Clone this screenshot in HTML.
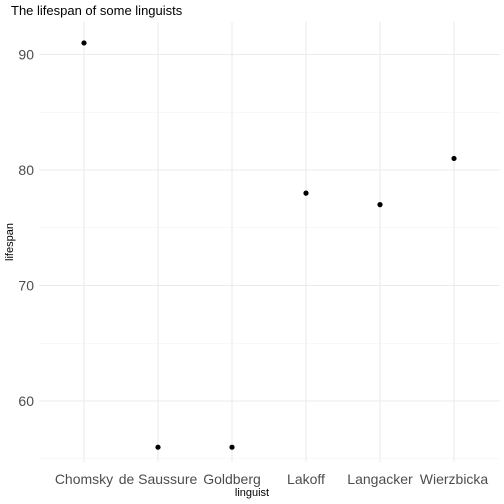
<!DOCTYPE html>
<html><head><meta charset="utf-8"><style>
body{margin:0;background:#fff}
svg{display:block;font-family:"Liberation Sans",sans-serif}
</style></head><body>
<svg id="chart" width="504" height="504">
<text x="11" y="15" font-size="13" fill="#000">The lifespan of some linguists</text>
<text x="252" y="496" font-size="11" text-anchor="middle" fill="#000">linguist</text>
<text transform="translate(13,242) rotate(-90)" font-size="11" text-anchor="middle" fill="#000">lifespan</text>
<g id="grid"></g><g id="xt"></g><g id="yt"></g><g id="pts"></g>
</svg>
<script>
const categories=["Chomsky","de Saussure","Goldberg","Lakoff","Langacker","Wierzbicka"];
const lifespans=[91,56,56,78,77,81];
const yTicks=[60,70,80,90];
const yMinor=[55,65,75,85];
const L=39,R=500,T=22,B=462;
const y=v=>401-(v-60)*11.55;
const x=i=>84+i*74;
const ns="http://www.w3.org/2000/svg";
function mk(t,a,p){const e=document.createElementNS(ns,t);for(const k in a)e.setAttribute(k,a[k]);document.getElementById(p).appendChild(e);return e;}
yMinor.forEach(v=>{const e=mk("line",{x1:L,x2:R,y1:y(v),y2:y(v),stroke:"#f2f2f2","stroke-width":0.6},"grid");

});
yTicks.forEach(v=>{const e=mk("line",{x1:L,x2:R,y1:y(v),y2:y(v),stroke:"#ebebeb","stroke-width":1.1},"grid");


const t=mk("text",{x:34,y:y(v)+5,"font-size":14,"text-anchor":"end",fill:"#4d4d4d"},"yt");t.textContent=v;

});
categories.forEach((c,i)=>{const e=mk("line",{x1:x(i),x2:x(i),y1:T,y2:B,stroke:"#ebebeb","stroke-width":1.1},"grid");


const t=mk("text",{x:x(i),y:484,"font-size":14,"text-anchor":"middle",fill:"#4d4d4d"},"xt");t.textContent=c;

});
lifespans.forEach((v,i)=>{const p=mk("circle",{cx:x(i),cy:y(v),r:2.6,fill:"#000"},"pts");

});
</script>
</body></html>
